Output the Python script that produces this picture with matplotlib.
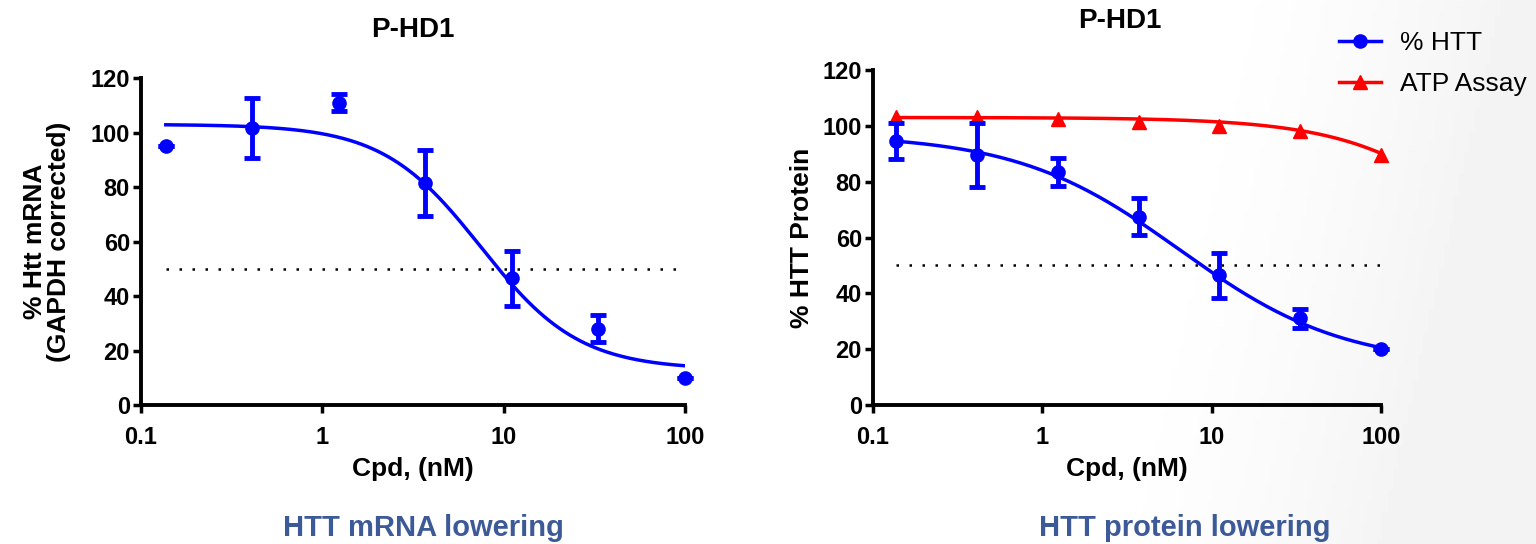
import numpy as np
import matplotlib.pyplot as plt

# Data
conc = [0.137, 0.412, 1.235, 3.70, 11.1, 33.3, 100.0]

mrna = [95.0, 101.5, 111.0, 81.5, 46.5, 28.0, 10.0]
mrna_err = [0.0, 11.0, 3.0, 12.0, 10.0, 5.0, 0.0]

htt = [94.5, 89.5, 83.5, 67.5, 46.5, 31.0, 20.0]
htt_err = [6.5, 11.5, 5.0, 6.5, 8.0, 3.5, 0.0]

atp = [103.0, 103.0, 102.5, 101.5, 100.0, 98.0, 89.5]

# 4PL fit parameters (top, bottom, IC50, hill)
mrna_fit = (103.0, 13.0, 7.5, 1.6)
htt_fit = (97.0, 14.0, 6.5, 0.9)
atp_fit = (103.0, 0.0, 700.0, 1.0)

x_ticks = [0.1, 1, 10, 100]
x_ticklabels = ['0.1', '1', '10', '100']
y_ticks = [0, 20, 40, 60, 80, 100, 120]

plt.rcParams['font.family'] = ['Liberation Sans', 'DejaVu Sans']

BLUE = '#0000ff'
RED = '#ff0000'
SUB = '#3d5a98'


def four_pl(x, top, bottom, ic50, hill):
    return bottom + (top - bottom) / (1 + (x / ic50) ** hill)


def style_axes(ax, ylabel, ypad):
    ax.set_xscale('log')
    ax.set_xlim(0.1, 100)
    ax.set_ylim(0, 120)
    ax.set_xticks(x_ticks)
    ax.set_xticklabels(x_ticklabels)
    ax.set_yticks(y_ticks)
    ax.minorticks_off()
    for s in ['top', 'right']:
        ax.spines[s].set_visible(False)
    for s in ['left', 'bottom']:
        ax.spines[s].set_linewidth(2.8)
    ax.tick_params(width=2.5, length=6, labelsize=17)
    ax.tick_params(axis='x', pad=9)
    ax.tick_params(axis='y', pad=2)
    for lab in ax.get_xticklabels() + ax.get_yticklabels():
        lab.set_fontweight('bold')
    ax.set_xlabel('Cpd, (nM)', fontsize=19, fontweight='bold', labelpad=6)
    ax.set_ylabel(ylabel, fontsize=19, fontweight='bold', labelpad=ypad,
                  linespacing=1.0)
    ax.set_facecolor('none')


fig = plt.figure(figsize=(15.36, 5.44), dpi=100)

# faint grey wash on the right side of the slide
bg = fig.add_axes([0, 0, 1, 1], zorder=-10)
gx, gy = np.meshgrid(np.linspace(0, 1, 300), np.linspace(0, 1, 100))
wash = np.clip((gx - 0.78 + 0.08 * gy) / 0.22, 0, 1) ** 1.5
bg.imshow(1 - 0.05 * wash, cmap='gray', vmin=0, vmax=1, aspect='auto',
          extent=[0, 1, 0, 1], origin='upper')
bg.axis('off')

# left panel: mRNA
ax1 = fig.add_axes([0.0918, 0.2555, 0.354, 0.601])
xs = np.logspace(np.log10(conc[0]), np.log10(conc[-1]), 200)
ax1.plot(xs, four_pl(xs, *mrna_fit), color=BLUE, lw=2.5, zorder=3)
ax1.errorbar(conc, mrna, yerr=mrna_err, fmt='o', color=BLUE, ms=9.5,
             elinewidth=3.5, capsize=6, capthick=3.5, zorder=4, clip_on=False)
ax1.plot([conc[0], conc[-1]], [50, 50], color='black', lw=1.8,
         linestyle=(0, (1, 4.2)))
style_axes(ax1, '% Htt mRNA\n(GAPDH corrected)', 14)
fig.text(0.269, 0.945, 'P-HD1', ha='center', va='center',
         fontsize=20, fontweight='bold')
fig.text(0.276, 0.03, 'HTT mRNA lowering', ha='center', va='center',
         fontsize=21, fontweight='bold', color=SUB)

# right panel: protein + ATP
ax2 = fig.add_axes([0.5684, 0.2555, 0.3307, 0.6158])
ax2.plot(xs, four_pl(xs, *atp_fit), color=RED, lw=2.5, zorder=3)
ax2.plot(conc, atp, '^', color=RED, ms=10.5, zorder=4, clip_on=False)
ax2.plot(xs, four_pl(xs, *htt_fit), color=BLUE, lw=2.5, zorder=3)
ax2.errorbar(conc, htt, yerr=htt_err, fmt='o', color=BLUE, ms=9.5,
             elinewidth=3.5, capsize=6, capthick=3.5, zorder=4, clip_on=False)
ax2.plot([conc[0], conc[-1]], [50, 50], color='black', lw=1.8,
         linestyle=(0, (1, 4.2)))
style_axes(ax2, '% HTT Protein', 6)
fig.text(0.729, 0.962, 'P-HD1', ha='center', va='center',
         fontsize=20, fontweight='bold')
fig.text(0.771, 0.03, 'HTT protein lowering', ha='center', va='center',
         fontsize=21, fontweight='bold', color=SUB)

h1, = ax2.plot([], [], '-o', color=BLUE, lw=2.5, ms=9.5)
h2, = ax2.plot([], [], '-^', color=RED, lw=2.5, ms=10.5)
fig.legend([h1, h2], ['% HTT', 'ATP Assay'], loc='upper left',
           bbox_to_anchor=(0.865, 0.962), frameon=False,
           prop={'size': 19}, handlelength=1.6, handletextpad=0.7,
           labelspacing=0.65, borderaxespad=0)

fig.savefig('out.png', dpi=100)
